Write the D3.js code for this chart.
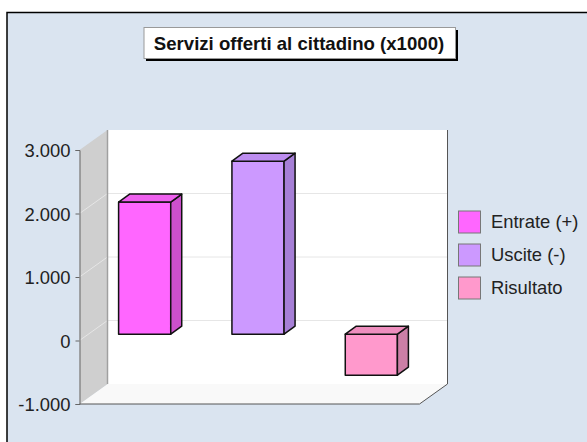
<!DOCTYPE html>
<html>
<head>
<meta charset="utf-8">
<script src="https://cdn.jsdelivr.net/npm/d3@7"></script>
<style>
  html, body { margin: 0; padding: 0; background: #fff; }
  svg { display: block; font-family: "Liberation Sans", Arial, sans-serif; }
</style>
</head>
<body>
<div id="chart"></div>
<script>
const titleText = "Servizi offerti al cittadino (x1000)"
const categories = ["Entrate (+)", "Uscite (-)", "Risultato"]
const values = [2080, 2725, -645]
const colors = ["#ff66ff", "#cc99ff", "#ff99cc"]
const sideColors = ["#cc50cc", "#a67fd6", "#cc7fa6"]
const topColors = ["#ee60ee", "#bd8df0", "#ee8ebe"]
const tickValues = [-1000, 0, 1000, 2000, 3000]
const tickLabels = ["-1.000", "0", "1.000", "2.000", "3.000"]

const width = 587
const height = 442

// front plane of the 3d box and how far back the wall sits
const plotLeft = 79.5, plotRight = 419.5, plotTop = 150, plotBottom = 404
const depthX = 28, depthY = -20
// bars stand in the middle of the floor
const barDepthX = 11, barDepthY = -8, barShiftX = 8.5, barShiftY = -6.3

const y = d3.scaleLinear().domain([-1000, 3000]).range([plotBottom, plotTop])
const x = d3.scaleBand().domain(categories).range([plotLeft, plotRight]).paddingInner(0.54).paddingOuter(0.27)

const svg = d3.select("#chart").append("svg")
    .attr("width", width)
    .attr("height", height)

svg.append("rect")
    .attr("x", 7).attr("y", 12.5)
    .attr("width", 600).attr("height", 440)
    .attr("fill", "#dae4f0")
    .attr("stroke", "#000")
    .attr("stroke-width", 1.5)

// title box
const title = svg.append("g")
title.append("rect")
    .attr("x", 146).attr("y", 30).attr("width", 312).attr("height", 31)
    .attr("fill", "#000")
title.append("rect")
    .attr("x", 144).attr("y", 27.5).attr("width", 311.5).attr("height", 31)
    .attr("fill", "#fff")
    .attr("stroke", "#999")
title.append("text")
    .attr("x", 299).attr("y", 49.5)
    .attr("text-anchor", "middle")
    .attr("font-weight", "bold")
    .attr("font-size", 18.6)
    .attr("fill", "#111")
    .text(titleText)

// back wall
svg.append("rect")
    .attr("x", plotLeft + depthX).attr("y", plotTop + depthY)
    .attr("width", plotRight - plotLeft).attr("height", plotBottom - plotTop)
    .attr("fill", "#fff")

// floor
svg.append("path")
    .attr("d", d3.line()([[plotLeft, plotBottom], [plotLeft + depthX, plotBottom + depthY], [plotRight + depthX, plotBottom + depthY], [plotRight, plotBottom]]))
    .attr("fill", "#f9f9f9")

// left wall
svg.append("path")
    .attr("d", d3.line()([[plotLeft, plotTop], [plotLeft + depthX, plotTop + depthY], [plotLeft + depthX, plotBottom + depthY], [plotLeft, plotBottom]]))
    .attr("fill", "#cfcfcf")

// gridlines go along the side wall and across the back
svg.append("g").selectAll("path")
    .data(tickValues.slice(1, 4))
    .join("path")
    .attr("d", d => d3.line()([[plotLeft, y(d)], [plotLeft + depthX, y(d) + depthY], [plotRight + depthX, y(d) + depthY]]))
    .attr("fill", "none")
    .attr("stroke", "#e6e6e6")

svg.append("line")
    .attr("x1", plotLeft + depthX).attr("x2", plotLeft + depthX)
    .attr("y1", plotTop + depthY).attr("y2", plotBottom + depthY)
    .attr("stroke", "#a0a0a0").attr("stroke-width", 1.5)

// outline on the right and bottom
svg.append("path")
    .attr("d", d3.line()([[plotRight + depthX, plotTop + depthY], [plotRight + depthX, plotBottom + depthY], [plotRight, plotBottom], [plotLeft, plotBottom]]))
    .attr("fill", "none")
    .attr("stroke", "#555")

// y axis
const axis = svg.append("g")
    .attr("transform", `translate(${plotLeft},0)`)
    .call(d3.axisLeft(y).tickValues(tickValues).tickFormat((d, i) => tickLabels[i]).tickSize(4).tickPadding(5))
axis.selectAll("path, line").attr("stroke", "#666")
axis.selectAll("text").attr("font-size", 18.4).attr("fill", "#222").attr("font-family", "Liberation Sans, Arial, sans-serif").attr("dy", "0.36em")

// bars
const bars = svg.append("g").attr("stroke", "#111").attr("stroke-width", 1.5).attr("stroke-linejoin", "round")
    .selectAll("g")
    .data(values)
    .join("g")

function barBox(d, i) {
    let x0 = x(categories[i]) + barShiftX
    let x1 = x0 + x.bandwidth()
    let y0 = y(Math.max(d, 0)) + barShiftY
    let y1 = y(Math.min(d, 0)) + barShiftY
    return {x0, x1, y0, y1}
}

bars.append("rect")
    .attr("x", (d, i) => barBox(d, i).x0)
    .attr("y", (d, i) => barBox(d, i).y0)
    .attr("width", x.bandwidth())
    .attr("height", (d, i) => barBox(d, i).y1 - barBox(d, i).y0)
    .attr("fill", (d, i) => colors[i])

bars.append("path")
    .attr("d", (d, i) => {
        let b = barBox(d, i)
        return d3.line()([[b.x1, b.y0], [b.x1 + barDepthX, b.y0 + barDepthY], [b.x1 + barDepthX, b.y1 + barDepthY], [b.x1, b.y1]]) + "Z"
    })
    .attr("fill", (d, i) => sideColors[i])

bars.append("path")
    .attr("d", (d, i) => {
        let b = barBox(d, i)
        return d3.line()([[b.x0, b.y0], [b.x0 + barDepthX, b.y0 + barDepthY], [b.x1 + barDepthX, b.y0 + barDepthY], [b.x1, b.y0]]) + "Z"
    })
    .attr("fill", (d, i) => topColors[i])

// legend
const legendY = d3.scalePoint().domain(categories).range([222, 288])
const legend = svg.append("g").selectAll("g")
    .data(categories)
    .join("g")
    .attr("transform", d => `translate(458,${legendY(d)})`)

legend.append("rect")
    .attr("x", 0.5).attr("y", -11)
    .attr("width", 22).attr("height", 22)
    .attr("fill", (d, i) => colors[i])
    .attr("stroke", "#777")

legend.append("text")
    .attr("x", 33).attr("y", 6)
    .attr("font-size", 18.4)
    .attr("fill", "#222")
    .text(d => d)
</script>
</body>
</html>
